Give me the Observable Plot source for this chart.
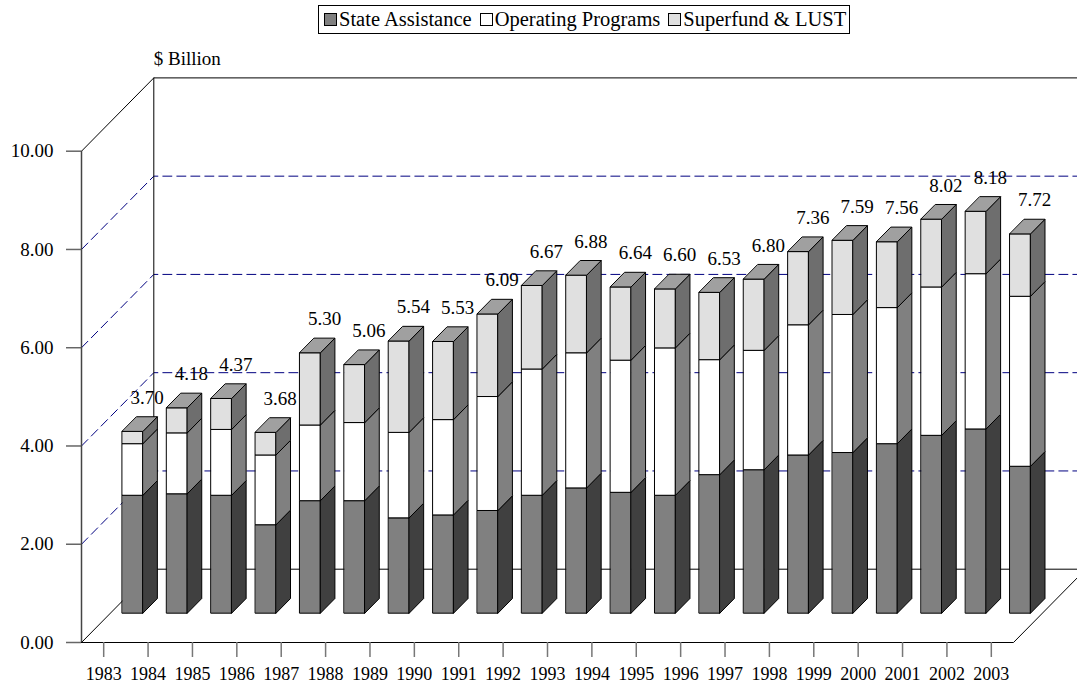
<!DOCTYPE html>
<html>
<head>
<meta charset="utf-8">
<script src="https://cdn.jsdelivr.net/npm/d3@7"></script>
<script src="https://cdn.jsdelivr.net/npm/@observablehq/plot@0.6"></script>
<style>
  html, body { margin: 0; padding: 0; background: #fff; overflow: hidden; }
  #wrap { position: relative; width: 1077px; height: 688px; }
  #legend {
    position: absolute; left: 318px; top: 5px;
    border: 1px solid #000; background: #fff;
    font-family: "Liberation Serif", "Times New Roman", serif; font-size: 20.5px;
    display: flex; align-items: center; height: 27px; padding: 0 3px 0 5px; white-space: nowrap;
  }
  #legend .item { display: flex; align-items: center; margin-right: 8px; }
  #legend .item:last-child { margin-right: 0; }
  #legend .sw { width: 11px; height: 11px; border: 1px solid #000; margin-right: 2px; }
</style>
</head>
<body>
<div id="wrap">
  <div id="chart"></div>
  <div id="legend"></div>
</div>
<script>
// ---- data ----
const years = ["1983","1984","1985","1986","1987","1988","1989","1990","1991","1992","1993",
               "1994","1995","1996","1997","1998","1999","2000","2001","2002","2003"];
const stateAssistance   = [2.40,2.43,2.40,1.80,2.29,2.29,1.94,2.00,2.09,2.40,2.55,2.46,2.40,2.82,2.92,3.22,3.27,3.45,3.62,3.75,2.99];
const operatingPrograms = [1.05,1.24,1.34,1.42,1.54,1.59,1.74,1.94,2.32,2.57,2.75,2.69,3.00,2.34,2.43,2.65,2.81,2.77,3.02,3.16,3.46];
const superfundLust     = [0.25,0.51,0.63,0.46,1.47,1.18,1.86,1.59,1.68,1.70,1.58,1.49,1.20,1.37,1.45,1.49,1.51,1.34,1.38,1.27,1.27];
const totals            = [3.70,4.18,4.37,3.68,5.30,5.06,5.54,5.53,6.09,6.67,6.88,6.64,6.60,6.53,6.80,7.36,7.59,7.56,8.02,8.18,7.72];
const seriesNames = ["State Assistance", "Operating Programs", "Superfund & LUST"];
const yTicks = [0, 2, 4, 6, 8, 10];
const gridValues = [2, 4, 6, 8];

// ---- styling ----
const frontColors = ["#808080", "#ffffff", "#e0e0e0"];
const sideColors  = ["#404040", "#808080", "#6e6e6e"];
const topColor = "#a0a0a0";
const FONT = '"Liberation Serif", "Times New Roman", serif';

// ---- 3D geometry (depth expressed in data units of the two scales) ----
const W = 1077, H = 688;
const mL = 81, mR = 64, mT = 150.7, mB = 46;
const n = years.length;
const pxPerU = (W - mL - mR) / n;
const pxPerV = (H - mB - mT) / 10;
const DU = 72.3 / pxPerU;   // depth shift along x
const DV = 73.3 / pxPerV;   // depth shift along y
const d0 = 0.4, d1 = 0.6, half = 0.232;
const P = (u, v, d) => ({x: u + d * DU, y: v + d * DV});

const series = [stateAssistance, operatingPrograms, superfundLust];
const pts = [];
let fid = 0;
function face(kind, corners) {
  const id = fid++;
  for (const c of corners) pts.push({id, kind, x: c.x, y: c.y});
}
for (let i = 0; i < n; i++) {
  let base = 0;
  const uL = i + 0.5 - half, uR = i + 0.5 + half;
  series.forEach((s, k) => {
    const v0 = base, v1 = base + s[i];
    base = v1;
    face("front" + k, [P(uL, v0, d0), P(uR, v0, d0), P(uR, v1, d0), P(uL, v1, d0)]);
    face("side" + k,  [P(uR, v0, d0), P(uR, v0, d1), P(uR, v1, d1), P(uR, v1, d0)]);
    if (k === series.length - 1)
      face("top", [P(uL, v1, d0), P(uR, v1, d0), P(uR, v1, d1), P(uL, v1, d1)]);
  });
}
const poly = (kind, fill) => Plot.line(pts.filter(p => p.kind === kind),
  {x: "x", y: "y", z: "id", fill, stroke: "#000", strokeWidth: 1, curve: "linear-closed"});

// walls
const uEnd = n + DU + 0.5;
const wallLines = [];
let wid = 0;
function wl(corners) { const id = wid++; for (const c of corners) wallLines.push({id, x: c.x, y: c.y}); }
wl([P(0, 10, 0), P(0, 10, 1), {x: uEnd, y: 10 + DV}]);          // left wall top + back wall top
wl([P(0, 0, 1), P(0, 10, 1)]);                                  // back wall left edge
wl([P(0, 0, 0), P(0, 0, 1), {x: uEnd, y: DV}]);                 // floor left edge + back floor line
wl([P(n, 0, 0), P(n, 0, 1)]);                                   // floor right edge
const grid = [];
gridValues.forEach((v, j) => {
  grid.push({id: j, ...P(0, v, 0)}, {id: j, ...P(0, v, 1)}, {id: j, x: uEnd, y: v + DV});
});

const labels = totals.map((t, i) => ({...P(i + 0.5, t, d1), text: t.toFixed(2)}));

const chart = Plot.plot({
  width: W, height: H,
  marginLeft: mL, marginRight: mR, marginTop: mT, marginBottom: mB,
  x: {domain: [0, n]},
  y: {domain: [0, 10]},
  style: {fontFamily: FONT, fontSize: "19px", background: "#fff", color: "#000"},
  marks: [
    Plot.line(grid, {x: "x", y: "y", z: "id", stroke: "#000080", strokeWidth: 1, strokeDasharray: "9,5"}),
    Plot.line(wallLines, {x: "x", y: "y", z: "id", stroke: "#000", strokeWidth: 1}),
    Plot.ruleY([0], {x1: 0, x2: n, stroke: "#000", strokeWidth: 1}),
    Plot.ruleX([0], {y1: 0, y2: 10, stroke: "#444", strokeWidth: 1.5}),
    poly("front0", frontColors[0]), poly("side0", sideColors[0]),
    poly("front1", frontColors[1]), poly("side1", sideColors[1]),
    poly("front2", frontColors[2]), poly("side2", sideColors[2]),
    poly("top", topColor),
    Plot.text(labels, {x: "x", y: "y", text: "text", dy: -19, fontSize: 19, fill: "#000"}),
    Plot.text([{x: P(0, 10, 1).x, y: P(0, 10, 1).y}], {x: "x", y: "y", text: () => "$ Billion", textAnchor: "start", dy: -19, fontSize: 19}),
    Plot.axisY(yTicks, {tickSize: 15, tickPadding: 13, tickFormat: d3.format(".2f"), stroke: "#666", strokeWidth: 1.5, label: null, fontSize: 19}),
    Plot.axisX(d3.range(n).map(i => i + 0.5), {tickSize: 15, tickPadding: 10, tickFormat: d => years[Math.floor(d)], stroke: "#777", strokeWidth: 1.5, label: null, fontSize: 18})
  ]
});
document.getElementById("chart").appendChild(chart);

// legend
const legend = document.getElementById("legend");
seriesNames.forEach((name, k) => {
  const it = document.createElement("div");
  it.className = "item";
  const sw = document.createElement("div");
  sw.className = "sw";
  sw.style.background = frontColors[k];
  const tx = document.createElement("span");
  tx.textContent = name;
  it.appendChild(sw); it.appendChild(tx);
  legend.appendChild(it);
});
</script>
</body>
</html>
